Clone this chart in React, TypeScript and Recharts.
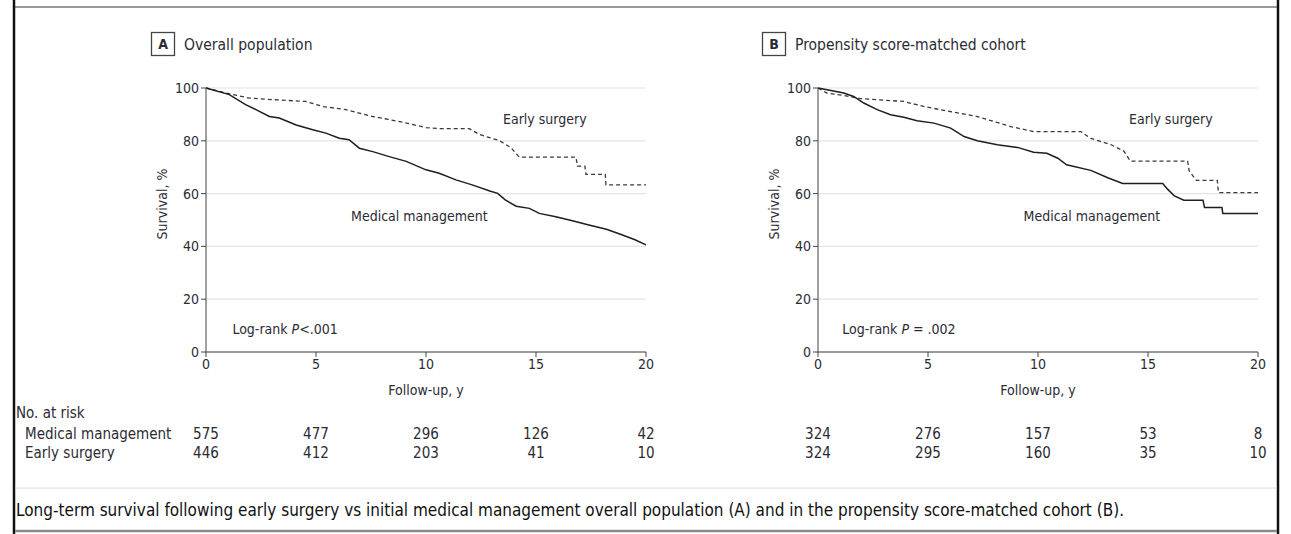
import React from 'react';
import { CartesianGrid, Line, LineChart, ReferenceDot, XAxis, YAxis } from 'recharts';

const FONT = "'Liberation Sans Narrow', 'DejaVu Sans Condensed', 'Open Sans', sans-serif";
const INK = '#2b2b35';

const YEAR_TICKS = [0, 5, 10, 15, 20];
const SURVIVAL_TICKS = [0, 20, 40, 60, 80, 100];
const RISK_YEARS = [0, 5, 10, 15, 20];

// Panel A - overall population (t = years, s = survival %)
const A_MEDICAL = [
  { t: 0, s: 100 }, { t: 1.06, s: 97.5 }, { t: 1.8, s: 93.7 }, { t: 2.27, s: 91.8 },
  { t: 2.88, s: 89.2 }, { t: 3.33, s: 88.6 }, { t: 4.1, s: 86 }, { t: 4.85, s: 84.2 },
  { t: 5.45, s: 82.9 }, { t: 6.06, s: 81 }, { t: 6.5, s: 80.4 }, { t: 6.97, s: 77.2 },
  { t: 7.58, s: 75.9 }, { t: 8.33, s: 74 }, { t: 9.1, s: 72.2 }, { t: 10, s: 69 },
  { t: 10.6, s: 67.7 }, { t: 11.36, s: 65.2 }, { t: 12.1, s: 63.3 }, { t: 12.9, s: 61 },
  { t: 13.26, s: 60.1 }, { t: 13.6, s: 57.6 }, { t: 14.1, s: 55.2 }, { t: 14.7, s: 54.4 },
  { t: 15.15, s: 52.5 }, { t: 15.9, s: 51.25 }, { t: 16.7, s: 49.6 }, { t: 17.4, s: 48.1 },
  { t: 18.2, s: 46.5 }, { t: 18.9, s: 44.4 }, { t: 19.5, s: 42.5 }, { t: 20, s: 40.6 },
];
const A_SURGERY = [
  { t: 0, s: 100 }, { t: 0.9, s: 98.1 }, { t: 1.97, s: 96.2 }, { t: 3.03, s: 95.6 },
  { t: 4.55, s: 94.9 }, { t: 5.3, s: 93 }, { t: 6.36, s: 91.8 }, { t: 7.58, s: 89.2 },
  { t: 8.8, s: 87.3 }, { t: 10, s: 85 }, { t: 10.6, s: 84.6 }, { t: 11.97, s: 84.6 },
  { t: 12.42, s: 82.4 }, { t: 13.33, s: 80.1 }, { t: 13.86, s: 77.4 }, { t: 14.24, s: 73.8 },
  { t: 16.82, s: 73.8 }, { t: 16.88, s: 70.4 }, { t: 17.22, s: 70.4 }, { t: 17.27, s: 67.3 },
  { t: 18.15, s: 67.3 }, { t: 18.18, s: 63.3 }, { t: 20, s: 63.3 },
];

// Panel B - propensity score-matched cohort
const B_MEDICAL = [
  { t: 0, s: 100 }, { t: 1.17, s: 98.1 }, { t: 1.62, s: 96.8 }, { t: 2.08, s: 94.3 },
  { t: 2.69, s: 91.8 }, { t: 3.3, s: 89.9 }, { t: 3.9, s: 88.9 }, { t: 4.5, s: 87.6 },
  { t: 5.27, s: 86.7 }, { t: 6.03, s: 84.8 }, { t: 6.64, s: 81.6 }, { t: 7.24, s: 80 },
  { t: 8.15, s: 78.5 }, { t: 9.07, s: 77.5 }, { t: 9.8, s: 75.7 }, { t: 10.4, s: 75.3 },
  { t: 10.9, s: 73.4 }, { t: 11.3, s: 70.9 }, { t: 12.4, s: 68.8 }, { t: 13.17, s: 66 },
  { t: 13.85, s: 63.8 }, { t: 15.67, s: 63.8 }, { t: 15.9, s: 61.6 }, { t: 16.2, s: 59.1 },
  { t: 16.63, s: 57.5 }, { t: 17.5, s: 57.5 }, { t: 17.57, s: 54.7 }, { t: 18.36, s: 54.7 },
  { t: 18.4, s: 52.5 }, { t: 20, s: 52.5 },
];
const B_SURGERY = [
  { t: 0, s: 100 }, { t: 0.4, s: 98.1 }, { t: 1.17, s: 97.2 }, { t: 1.93, s: 96 },
  { t: 3.9, s: 94.9 }, { t: 4.8, s: 93 }, { t: 6, s: 91.1 }, { t: 7.24, s: 89.2 },
  { t: 8.76, s: 85.4 }, { t: 9.8, s: 83.5 }, { t: 11.95, s: 83.5 }, { t: 12.4, s: 80.9 },
  { t: 13.3, s: 78.6 }, { t: 13.9, s: 76.1 }, { t: 14.2, s: 72.3 }, { t: 16.8, s: 72.3 },
  { t: 16.87, s: 68.6 }, { t: 17.2, s: 65 }, { t: 18.15, s: 65 }, { t: 18.2, s: 60.4 },
  { t: 20, s: 60.4 },
];

const A_RISK_MEDICAL = [575, 477, 296, 126, 42];
const A_RISK_SURGERY = [446, 412, 203, 41, 10];
const B_RISK_MEDICAL = [324, 276, 157, 53, 8];
const B_RISK_SURGERY = [324, 295, 160, 35, 10];

const CHART_W = 520;
const CHART_H = 340;
const CHART_TOP = 70;
const MARGIN = { top: 18, right: 14, bottom: 8, left: 20 };
const Y_AXIS_W = 46;
const PLOT_W = CHART_W - MARGIN.left - Y_AXIS_W - MARGIN.right;
const A_LEFT = 140;
const B_LEFT = 752;

type Pt = { t: number; s: number };

interface PanelProps {
  left: number;
  medical: Pt[];
  surgery: Pt[];
  surgeryAt: [number, number];
  medicalAt: [number, number];
  logRankAt: [number, number];
  pText: string;
}

function KmPanel({ left, medical, surgery, surgeryAt, medicalAt, logRankAt, pText }: PanelProps) {
  const textStyle = { fontFamily: FONT, fontSize: 14, fill: INK };
  return (
    <div style={{ position: 'absolute', left, top: CHART_TOP }}>
      <LineChart width={CHART_W} height={CHART_H} margin={MARGIN}>
        <CartesianGrid vertical={false} stroke="#e4e4e4" strokeWidth={1.2} />
        <XAxis
          type="number"
          dataKey="t"
          domain={[0, 20]}
          ticks={YEAR_TICKS}
          height={50}
          tickSize={5}
          stroke="#444"
          tick={{ fill: INK, fontSize: 14, fontFamily: FONT }}
          label={{
            content: (p: any) => (
              <text x={p.viewBox.x + p.viewBox.width / 2} y={p.viewBox.y + 43} textAnchor="middle" style={textStyle}>
                Follow-up, y
              </text>
            ),
          }}
        />
        <YAxis
          type="number"
          dataKey="s"
          domain={[0, 100]}
          ticks={SURVIVAL_TICKS}
          width={Y_AXIS_W}
          tickSize={5}
          stroke="#444"
          tick={{ fill: INK, fontSize: 14, fontFamily: FONT }}
          label={{
            content: (p: any) => {
              const cx = p.viewBox.x + 3;
              const cy = p.viewBox.y + p.viewBox.height / 2 - 16;
              return (
                <text x={cx} y={cy} transform={`rotate(-90 ${cx} ${cy})`} textAnchor="middle" dominantBaseline="middle" style={textStyle}>
                  Survival, %
                </text>
              );
            },
          }}
        />
        <Line data={surgery} dataKey="s" type="linear" stroke="#3a3a3a" strokeWidth={1.3} strokeDasharray="4 3" dot={false} isAnimationActive={false} />
        <Line data={medical} dataKey="s" type="linear" stroke="#1e1e1e" strokeWidth={1.5} dot={false} isAnimationActive={false} />
        <ReferenceDot
          x={surgeryAt[0]}
          y={surgeryAt[1]}
          r={0}
          fill="none"
          stroke="none"
          label={{
            content: (p: any) => (
              <text x={p.viewBox.x + p.viewBox.width / 2} y={p.viewBox.y} textAnchor="middle" dominantBaseline="middle" style={textStyle}>
                Early surgery
              </text>
            ),
          }}
        />
        <ReferenceDot
          x={medicalAt[0]}
          y={medicalAt[1]}
          r={0}
          fill="none"
          stroke="none"
          label={{
            content: (p: any) => (
              <text x={p.viewBox.x + p.viewBox.width / 2} y={p.viewBox.y} textAnchor="middle" dominantBaseline="middle" style={textStyle}>
                Medical management
              </text>
            ),
          }}
        />
        <ReferenceDot
          x={logRankAt[0]}
          y={logRankAt[1]}
          r={0}
          fill="none"
          stroke="none"
          label={{
            content: (p: any) => (
              <text x={p.viewBox.x} y={p.viewBox.y} textAnchor="start" dominantBaseline="middle" style={textStyle}>
                Log-rank <tspan fontStyle="italic">P</tspan>
                {pText}
              </text>
            ),
          }}
        />
      </LineChart>
    </div>
  );
}

const riskX = (chartLeft: number, year: number) =>
  chartLeft + MARGIN.left + Y_AXIS_W + (year / 20) * PLOT_W;

export default function App() {
  const txt = { fontFamily: FONT, fill: INK };
  return (
    <div style={{ position: 'absolute', left: 0, top: 0, width: 1291, height: 534, background: '#fff', overflow: 'hidden' }}>
      <KmPanel
        left={A_LEFT}
        medical={A_MEDICAL}
        surgery={A_SURGERY}
        surgeryAt={[15.4, 88]}
        medicalAt={[9.7, 51]}
        logRankAt={[1.2, 8.3]}
        pText="<.001"
      />
      <KmPanel
        left={B_LEFT}
        medical={B_MEDICAL}
        surgery={B_SURGERY}
        surgeryAt={[16.04, 88]}
        medicalAt={[12.45, 51]}
        logRankAt={[1.1, 8.3]}
        pText=" = .002"
      />
      <svg width={1291} height={534} style={{ position: 'absolute', left: 0, top: 0, pointerEvents: 'none' }}>
        {/* frame */}
        <line x1={15} y1={7} x2={1278} y2={7} stroke="#9a9a9a" strokeWidth={2} />
        <line x1={14} y1={0} x2={14} y2={534} stroke="#111" strokeWidth={2.5} />
        <line x1={1278} y1={0} x2={1278} y2={534} stroke="#111" strokeWidth={2.5} />
        <line x1={15} y1={488} x2={1277} y2={488} stroke="#dcdcdc" strokeWidth={1} />
        <line x1={15} y1={531} x2={1277} y2={531} stroke="#8a8a8a" strokeWidth={2.5} />

        {/* panel titles */}
        <rect x={151.5} y={32.5} width={23} height={23} fill="#fff" stroke="#444" strokeWidth={1.3} />
        <text x={163} y={49} textAnchor="middle" fontSize={14} fontWeight="bold" style={txt}>A</text>
        <text x={184} y={50} fontSize={15.5} style={txt}>Overall population</text>
        <rect x={762.5} y={32.5} width={23} height={23} fill="#fff" stroke="#444" strokeWidth={1.3} />
        <text x={774} y={49} textAnchor="middle" fontSize={14} fontWeight="bold" style={txt}>B</text>
        <text x={795} y={50} fontSize={15.5} style={txt}>Propensity score-matched cohort</text>

        {/* number at risk */}
        <text x={16} y={418} fontSize={15} style={txt}>No. at risk</text>
        <text x={25} y={439} fontSize={15} style={txt}>Medical management</text>
        <text x={25} y={458} fontSize={15} style={txt}>Early surgery</text>
        {RISK_YEARS.map((yr, i) => (
          <g key={`risk-${yr}`}>
            <text x={riskX(A_LEFT, yr)} y={439} textAnchor="middle" fontSize={15} style={txt}>{A_RISK_MEDICAL[i]}</text>
            <text x={riskX(A_LEFT, yr)} y={458} textAnchor="middle" fontSize={15} style={txt}>{A_RISK_SURGERY[i]}</text>
            <text x={riskX(B_LEFT, yr)} y={439} textAnchor="middle" fontSize={15} style={txt}>{B_RISK_MEDICAL[i]}</text>
            <text x={riskX(B_LEFT, yr)} y={458} textAnchor="middle" fontSize={15} style={txt}>{B_RISK_SURGERY[i]}</text>
          </g>
        ))}

        {/* caption */}
        <text x={16} y={516} fontSize={17.5} textLength={1108} lengthAdjust="spacingAndGlyphs" style={{ fontFamily: FONT, fill: '#111' }}>
          Long-term survival following early surgery vs initial medical management overall population (A) and in the propensity score-matched cohort (B).
        </text>
      </svg>
    </div>
  );
}
